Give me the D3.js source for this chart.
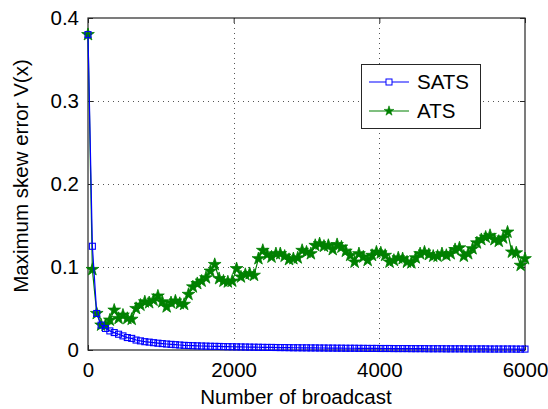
<!DOCTYPE html>
<html>
<head>
<meta charset="utf-8">
<script src="https://cdn.jsdelivr.net/npm/d3@7"></script>
<style>
  html, body { margin: 0; padding: 0; background: #fff; }
  svg { display: block; }
  text { font-family: "Liberation Sans", Arial, sans-serif; fill: #000; }
</style>
</head>
<body>
<svg id="chart" width="548" height="409"></svg>
<script>
// Broadcast counts (step 60 from 0 to 6000)
const broadcasts = d3.range(0, 6001, 60);

// Maximum skew error for SATS
const satsValues = [
  0.380, 0.125, 0.044, 0.030, 0.026, 0.023, 0.021, 0.019, 0.017, 0.015,
  0.014, 0.012, 0.011, 0.0100, 0.0095, 0.0088, 0.0082, 0.0077, 0.0072, 0.0068,
  0.0064, 0.0060, 0.0056, 0.0054, 0.0052, 0.0050, 0.0048, 0.0047, 0.0045, 0.0044,
  0.0043, 0.0041, 0.0040, 0.0039, 0.0038, 0.0037, 0.0036, 0.0035, 0.0034, 0.0033,
  0.0032, 0.0031, 0.0031, 0.0030, 0.0029, 0.0029, 0.0028, 0.0027, 0.0027, 0.0026,
  0.0026, 0.0025, 0.0025, 0.0024, 0.0024, 0.0023, 0.0023, 0.0022, 0.0022, 0.0021,
  0.0021, 0.0021, 0.0020, 0.0020, 0.0019, 0.0019, 0.0019, 0.0018, 0.0018, 0.0018,
  0.0017, 0.0017, 0.0017, 0.0017, 0.0016, 0.0016, 0.0016, 0.0016, 0.0015, 0.0015,
  0.0015, 0.0015, 0.0014, 0.0014, 0.0014, 0.0014, 0.0014, 0.0013, 0.0013, 0.0013,
  0.0013, 0.0013, 0.0012, 0.0012, 0.0012, 0.0012, 0.0012, 0.0012, 0.0011, 0.0011,
  0.0011
];

// Maximum skew error for ATS
const atsValues = [
  0.380, 0.097, 0.044, 0.030, 0.030, 0.036, 0.048, 0.038, 0.042, 0.038,
  0.037, 0.050, 0.054, 0.058, 0.057, 0.060, 0.065, 0.058, 0.052, 0.057,
  0.059, 0.056, 0.055, 0.067, 0.076, 0.080, 0.083, 0.087, 0.095, 0.103,
  0.086, 0.083, 0.082, 0.083, 0.098, 0.088, 0.091, 0.092, 0.090, 0.110,
  0.120, 0.115, 0.112, 0.116, 0.116, 0.113, 0.109, 0.110, 0.111, 0.120,
  0.118, 0.116, 0.126, 0.128, 0.125, 0.126, 0.121, 0.127, 0.124, 0.119,
  0.114, 0.106, 0.116, 0.112, 0.108, 0.114, 0.118, 0.117, 0.114, 0.106,
  0.108, 0.111, 0.110, 0.106, 0.105, 0.111, 0.116, 0.118, 0.115, 0.113,
  0.113, 0.116, 0.114, 0.116, 0.121, 0.123, 0.113, 0.116, 0.122, 0.129,
  0.133, 0.136, 0.138, 0.133, 0.131, 0.135, 0.142, 0.118, 0.117, 0.102,
  0.110
];

const xTicks = [0, 2000, 4000, 6000];
const yTicks = [0, 0.1, 0.2, 0.3, 0.4];
const seriesNames = ["SATS", "ATS"];
const xTitle = "Number of broadcast";
const yTitle = "Maximum skew error V(x)";

const svg = d3.select("#chart");
const m = { left: 88, right: 525, top: 18, bottom: 350 };

const x = d3.scaleLinear().domain([0, 6000]).range([m.left, m.right]);
const y = d3.scaleLinear().domain([0, 0.4]).range([m.bottom, m.top]);

const blue = "#0000ff";
const green = "#008000";
const frame = "#262626";
const fontFam = "'Liberation Sans', Arial, sans-serif";

// dotted grid lines at inner ticks
const grid = svg.append("g");
grid.selectAll("line.gx").data(xTicks.slice(1, -1)).join("line")
  .attr("x1", d => Math.round(x(d)) + 0.5).attr("x2", d => Math.round(x(d)) + 0.5)
  .attr("y1", m.top).attr("y2", m.bottom)
  .attr("stroke", "#555").attr("stroke-width", 1).attr("stroke-dasharray", "1,4");
grid.selectAll("line.gy").data(yTicks.slice(1, -1)).join("line")
  .attr("y1", d => Math.round(y(d)) + 0.5).attr("y2", d => Math.round(y(d)) + 0.5)
  .attr("x1", m.left).attr("x2", m.right)
  .attr("stroke", "#555").attr("stroke-width", 1).attr("stroke-dasharray", "1,4");

// axes with inward ticks on all four sides
const fmtY = d => d === 0 ? "0" : d3.format(".1f")(d);
const axB = d3.axisBottom(x).tickValues(xTicks).tickSize(-5).tickPadding(12).tickFormat(d3.format("d"));
const axT = d3.axisTop(x).tickValues(xTicks).tickSize(-5).tickFormat("");
const axL = d3.axisLeft(y).tickValues(yTicks).tickSize(-5).tickPadding(9).tickFormat(fmtY);
const axR = d3.axisRight(y).tickValues(yTicks).tickSize(-5).tickFormat("");

function styleAxis(g) {
  g.select(".domain").remove();
  g.selectAll(".tick line").attr("stroke", frame);
  g.selectAll(".tick text").attr("font-size", 20.5).attr("fill", "#000")
    .style("font-family", fontFam);
}
svg.append("g").attr("transform", `translate(0,${m.bottom})`).call(axB).call(styleAxis);
svg.append("g").attr("transform", `translate(0,${m.top})`).call(axT).call(styleAxis);
svg.append("g").attr("transform", `translate(${m.left},0)`).call(axL).call(styleAxis);
svg.append("g").attr("transform", `translate(${m.right},0)`).call(axR).call(styleAxis);

// plot frame
svg.append("rect").attr("x", m.left).attr("y", m.top)
  .attr("width", m.right - m.left).attr("height", m.bottom - m.top)
  .attr("fill", "none").attr("stroke", frame).attr("stroke-width", 1.2);

// axis titles
svg.append("text").attr("x", 296).attr("y", 404)
  .attr("text-anchor", "middle").attr("font-size", 20.5).text(xTitle);
svg.append("text").attr("transform", `translate(28,176) rotate(-90)`)
  .attr("text-anchor", "middle").attr("font-size", 20.5).text(yTitle);

const line = d3.line().x((d, i) => x(broadcasts[i])).y(d => y(d));
const star = d3.symbol().type(d3.symbolStar).size(50);
const starSmall = d3.symbol().type(d3.symbolStar).size(30);

// ATS series
svg.append("path").datum(atsValues).attr("d", line)
  .attr("fill", "none").attr("stroke", green).attr("stroke-width", 1.2);
svg.append("g").selectAll("path").data(atsValues).join("path")
  .attr("transform", (d, i) => `translate(${x(broadcasts[i])},${y(d)})`)
  .attr("d", star).attr("fill", green).attr("stroke", green).attr("stroke-width", 0.8);

// SATS series
const sq = 6;
svg.append("path").datum(satsValues).attr("d", line)
  .attr("fill", "none").attr("stroke", blue).attr("stroke-width", 1.2);
svg.append("g").selectAll("rect").data(satsValues).join("rect")
  .attr("x", (d, i) => x(broadcasts[i]) - sq / 2).attr("y", d => y(d) - sq / 2)
  .attr("width", sq).attr("height", sq)
  .attr("fill", "none").attr("stroke", blue).attr("stroke-width", 1.1);

// legend
const lg = svg.append("g");
lg.append("rect").attr("x", 361.5).attr("y", 64.5).attr("width", 119).attr("height", 64)
  .attr("fill", "#fff").attr("stroke", frame).attr("stroke-width", 1);
const entries = [
  { name: seriesNames[0], color: blue, yy: 82, mark: "square" },
  { name: seriesNames[1], color: green, yy: 111, mark: "star" }
];
entries.forEach(e => {
  lg.append("line").attr("x1", 369).attr("x2", 409).attr("y1", e.yy).attr("y2", e.yy)
    .attr("stroke", e.color).attr("stroke-width", 1.2);
  if (e.mark === "square") {
    lg.append("rect").attr("x", 389 - sq / 2).attr("y", e.yy - sq / 2)
      .attr("width", sq).attr("height", sq).attr("fill", "#fff").attr("stroke", e.color);
  } else {
    lg.append("path").attr("transform", `translate(389,${e.yy})`).attr("d", starSmall)
      .attr("fill", e.color).attr("stroke", e.color).attr("stroke-width", 0.6);
  }
  lg.append("text").attr("x", 417).attr("y", e.yy + 7).attr("font-size", 20.5).text(e.name);
});
</script>
</body>
</html>
